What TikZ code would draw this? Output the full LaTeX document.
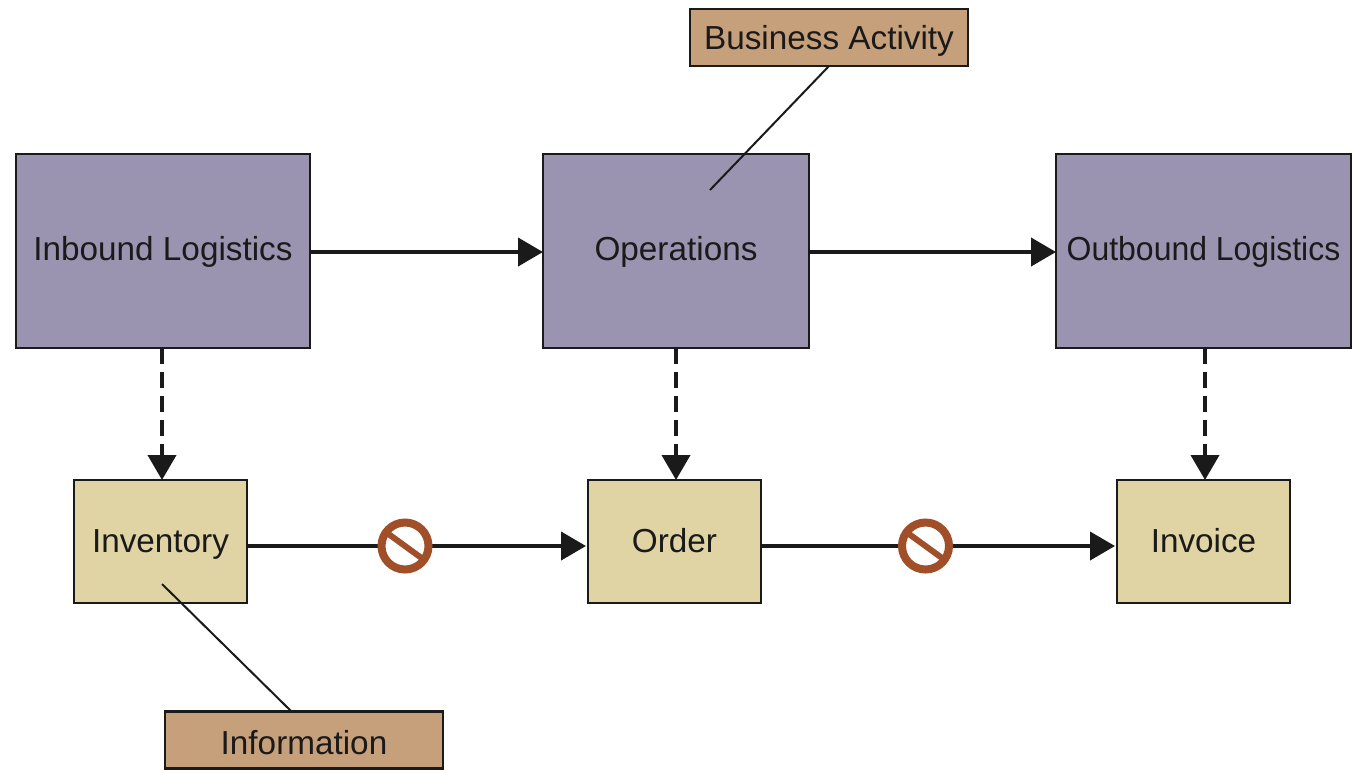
\documentclass[tikz,border=0pt]{standalone}
\usepackage{fontspec}
\setmainfont{Liberation Sans}
\usepackage{xcolor}
\usetikzlibrary{arrows.meta}
\definecolor{activityFill}{HTML}{9A94B1}
\definecolor{infoFill}{HTML}{E0D4A5}
\definecolor{labelFill}{HTML}{C6A07B}
\definecolor{blockColor}{HTML}{A04F28}
\definecolor{inkColor}{HTML}{1A1A1A}
\tikzset{
box/.style={draw=inkColor, line width=2.75pt, outer sep=0pt, inner sep=0pt, text=inkColor, font=\fontsize{33.3}{36}\selectfont},
activityBox/.style={box, fill=activityFill, minimum height=194pt, text height=24pt, text depth=6pt},
infoBox/.style={box, fill=infoFill, minimum width=173pt, minimum height=123pt, text height=24pt, text depth=3pt},
labelBox/.style={box, fill=labelFill, minimum width=278pt, minimum height=57pt, text height=24pt, text depth=0pt},
flowArrow/.style={draw=inkColor, line width=4pt, -{Triangle[length=25pt,width=28pt]}},
dashArrow/.style={flowArrow, dash pattern=on 16pt off 8pt},
leaderLine/.style={draw=inkColor, line width=2pt},
noEntry/.style={circle, draw=blockColor, fill=white, line width=8pt, minimum size=47pt, inner sep=0pt,
    path picture={\draw[blockColor, line width=6pt] ([shift={(-22pt,16pt)}]path picture bounding box.center) -- ([shift={(22pt,-16pt)}]path picture bounding box.center);}}
}
\begin{document}
\begin{tikzpicture}[x=1pt,y=-1pt]
    \useasboundingbox (0,0) rectangle (1357,772);
    \node[activityBox, minimum width=294pt] (inbound) at (163,251) {Inbound Logistics};
    \node[activityBox, minimum width=266pt] (operations) at (676,251) {Operations};
    \node[activityBox, minimum width=295pt] (outbound) at (1203.5,251) {\scalebox{0.96}[1]{Outbound Logistics}};
    \node[infoBox] (inventory) at (160.5,541.5) {Inventory};
    \node[infoBox] (order) at (674.5,541.5) {Order};
    \node[infoBox] (invoice) at (1203.5,541.5) {Invoice};
    \node[labelBox] (activity) at (829,37.5) {Business Activity};
    \node[labelBox, text height=28pt] (information) at (304,740) {Information};
    \coordinate (activityFoot) at (829,66);
    \coordinate (activityEnd) at (710,190);
    \coordinate (informationFoot) at (292,712);
    \coordinate (informationEnd) at (162,584);

    \draw[flowArrow] ([yshift=-1pt]inbound.east) -- ([yshift=-1pt]operations.west);
    \draw[flowArrow] ([yshift=-1pt]operations.east) -- ([yshift=-1pt]outbound.west);
    \draw[flowArrow] ([yshift=-4.5pt]inventory.east) -- ([yshift=-4.5pt,xshift=-2pt]order.west);
    \draw[flowArrow] ([yshift=-4.5pt]order.east) -- ([yshift=-4.5pt,xshift=-2pt]invoice.west);
    \draw[dashArrow] ([xshift=-1pt]inbound.south) -- ([xshift=-1pt]inbound.south |- inventory.north);
    \draw[dashArrow] (operations.south) -- (operations.south |- order.north);
    \draw[dashArrow] ([xshift=1.5pt]outbound.south) -- ([xshift=1.5pt]outbound.south |- invoice.north);
    \draw[leaderLine] (activityFoot) -- (activityEnd);
    \draw[leaderLine] (informationFoot) -- (informationEnd);

    \node[noEntry] (blockOne) at (405,546) {};
    \node[noEntry] (blockTwo) at (925.5,546) {};
\end{tikzpicture}
\end{document}
